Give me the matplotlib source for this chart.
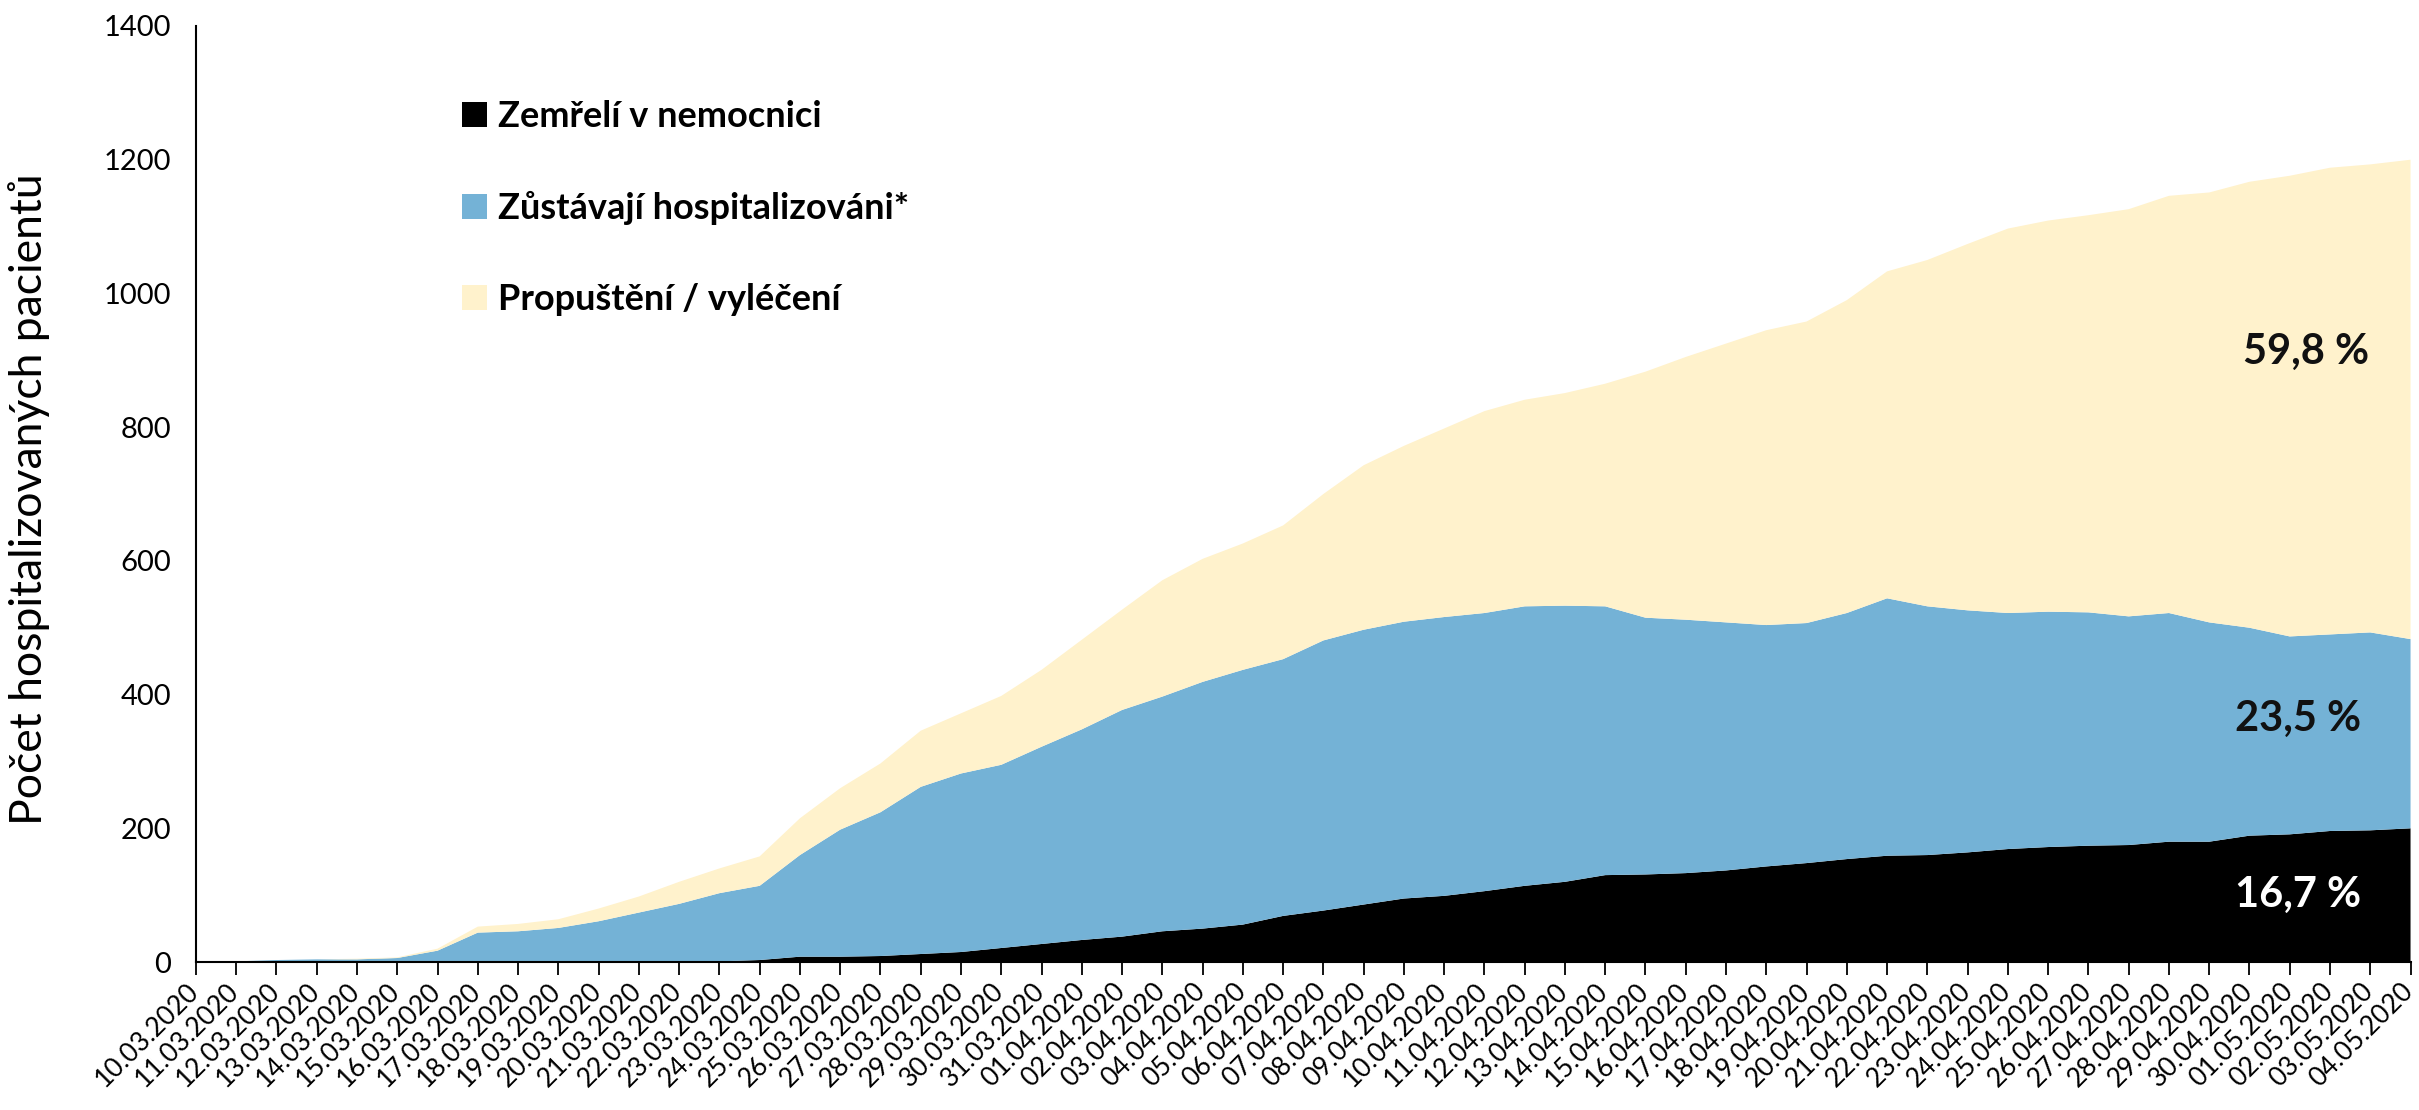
import matplotlib
matplotlib.use("Agg")
import matplotlib.pyplot as plt
from matplotlib.patches import Patch
from matplotlib.transforms import ScaledTranslation

plt.rcParams['font.family'] = ['Lato', 'DejaVu Sans']

# Data, 10.03.2020 - 04.05.2020
dates = [
    '10.03.2020', '11.03.2020', '12.03.2020', '13.03.2020', '14.03.2020', '15.03.2020',
    '16.03.2020', '17.03.2020', '18.03.2020', '19.03.2020', '20.03.2020', '21.03.2020',
    '22.03.2020', '23.03.2020', '24.03.2020', '25.03.2020', '26.03.2020', '27.03.2020',
    '28.03.2020', '29.03.2020', '30.03.2020', '31.03.2020', '01.04.2020', '02.04.2020',
    '03.04.2020', '04.04.2020', '05.04.2020', '06.04.2020', '07.04.2020', '08.04.2020',
    '09.04.2020', '10.04.2020', '11.04.2020', '12.04.2020', '13.04.2020', '14.04.2020',
    '15.04.2020', '16.04.2020', '17.04.2020', '18.04.2020', '19.04.2020', '20.04.2020',
    '21.04.2020', '22.04.2020', '23.04.2020', '24.04.2020', '25.04.2020', '26.04.2020',
    '27.04.2020', '28.04.2020', '29.04.2020', '30.04.2020', '01.05.2020', '02.05.2020',
    '03.05.2020', '04.05.2020',
]

zemreli = [0, 0, 0, 0, 0, 0, 0, 0, 0, 0, 0, 0, 0, 1, 3, 8, 8, 9, 12, 15,
           21, 27, 33, 38, 46, 50, 56, 69, 77, 86, 95, 99, 106, 114, 120, 130, 131, 133, 137, 143,
           148, 154, 159, 160, 164, 169, 172, 174, 175, 180, 180, 189, 191, 196, 197, 200]

hospitalizovani = [0, 1, 3, 4, 4, 6, 17, 44, 46, 51, 61, 74, 87, 102, 111, 152, 190, 215, 250, 267,
                   274, 295, 315, 339, 351, 369, 381, 384, 404, 411, 414, 417, 416, 418, 413, 402, 384, 379, 371, 361,
                   359, 368, 385, 372, 362, 353, 352, 349, 342, 342, 328, 311, 296, 294, 296, 283]

propusteni = [0, 0, 0, 0, 1, 1, 3, 9, 11, 13, 19, 24, 33, 37, 44, 55, 62, 73, 84, 90,
              103, 115, 134, 150, 174, 184, 189, 200, 219, 246, 263, 282, 302, 309, 318, 333, 368, 393, 417, 441,
              451, 468, 489, 518, 548, 575, 585, 594, 609, 624, 643, 667, 689, 698, 700, 717]

labels = ['Zemřelí v nemocnici', 'Zůstávají hospitalizováni*', 'Propuštění / vyléčení']
colors = ['#000000', '#74B2D6', '#FFF2CC']
share_texts = ['16,7 %', '23,5 %', '59,8 %']
ytick_vals = [0, 200, 400, 600, 800, 1000, 1200, 1400]

x = list(range(len(dates)))

fig = plt.figure(figsize=(24.19, 11.10), dpi=100)
ax = fig.add_axes([0.081, 0.1333, 0.9155, 0.8433])

ax.stackplot(x, zemreli, hospitalizovani, propusteni, colors=colors, linewidth=0)

ax.set_xlim(0, len(dates) - 1)
ax.set_ylim(0, 1400)
ax.set_yticks(ytick_vals)
ax.set_yticklabels([str(v) for v in ytick_vals], fontsize=21)
ax.tick_params(axis='y', length=0, pad=18)

ax.set_xticks(x)
ax.set_xticklabels(dates, rotation=45, ha='right', rotation_mode='anchor', fontsize=19)
ax.tick_params(axis='x', direction='out', length=9, width=1.3, pad=3)
# nudge the rotated date labels a little left so the last one stays inside
shift = ScaledTranslation(-7 / 72, 0, fig.dpi_scale_trans)
for lbl in ax.get_xticklabels():
    lbl.set_transform(lbl.get_transform() + shift)

for side in ['top', 'right']:
    ax.spines[side].set_visible(False)
for side in ['left', 'bottom']:
    ax.spines[side].set_linewidth(1.5)
    ax.spines[side].set_color('black')

ax.set_ylabel('Počet hospitalizovaných pacientů', fontsize=32)
ax.yaxis.set_label_coords(-0.066, 0.494)

# Legend
handles = [Patch(facecolor=c, edgecolor='none') for c in colors]
ax.legend(handles, labels, loc='upper left', bbox_to_anchor=(0.112, 0.94),
          frameon=False, borderpad=0, handlelength=0.7, handleheight=0.7,
          handletextpad=0.3, labelspacing=1.6,
          prop={'size': 26, 'weight': 'bold'})

# Shares at the last day
last = len(dates) - 1
ax.text(last - 2.8, 100, share_texts[0], color='white', fontsize=30, fontweight='bold',
        ha='center', va='center')
ax.text(last - 2.8, 363, share_texts[1], color='#111111', fontsize=30, fontweight='bold',
        ha='center', va='center')
ax.text(last - 2.6, 912, share_texts[2], color='#111111', fontsize=30, fontweight='bold',
        ha='center', va='center')

fig.savefig('out.png', dpi=100)
